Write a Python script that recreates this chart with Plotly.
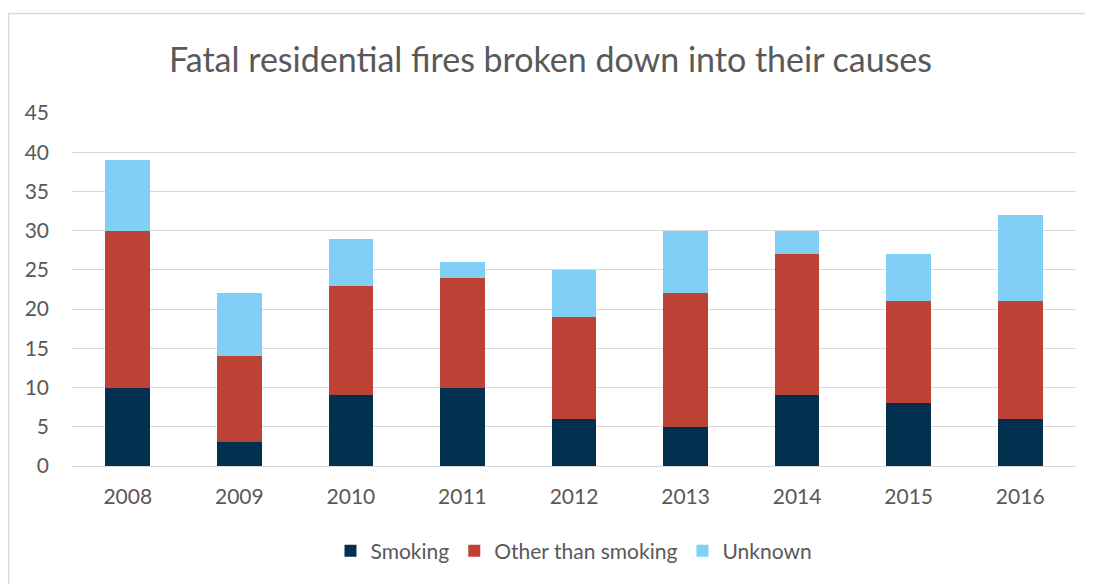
import plotly.graph_objects as go

years = ["2008", "2009", "2010", "2011", "2012", "2013", "2014", "2015", "2016"]
smoking = [10, 3, 9, 10, 6, 5, 9, 8, 6]
other = [20, 11, 14, 14, 13, 17, 18, 13, 15]
unknown = [9, 8, 6, 2, 6, 8, 3, 6, 11]

series_names = ["Smoking", "Other than smoking", "Unknown"]
colors = ["#02304E", "#BC4236", "#7FD0F4"]

fig = go.Figure()
for name, vals, c in zip(series_names, [smoking, other, unknown], colors):
    fig.add_trace(go.Bar(x=years, y=vals, name=name, marker=dict(color=c, line=dict(width=0))))

font_family = "Lato, Carlito, Calibri, sans-serif"
text_color = "#595959"

W, H = 1085, 576
L, R, T, B = 64, 17, 105, 118
PW, PH = W - L - R, H - T - B

fig.update_layout(
    barmode="stack",
    bargap=0.6,
    width=W, height=H,
    margin=dict(l=L, r=R, t=T, b=B),
    paper_bgcolor="white",
    plot_bgcolor="white",
    font=dict(family=font_family, color=text_color, size=21),
    title=dict(text="Fatal residential fires broken down into their causes",
               x=0.5, xanchor="center", y=1 - 52 / H, yanchor="middle",
               font=dict(size=34, color=text_color, family=font_family)),
    legend=dict(orientation="h", x=0.5, xanchor="center", y=(PH + T - 543) / PH, yanchor="middle",
                font=dict(size=21, color=text_color), traceorder="normal",
                itemwidth=30),
    xaxis=dict(showgrid=False, showline=False, ticks="", ticklabelstandoff=16,
               tickfont=dict(size=21, color=text_color)),
    yaxis=dict(range=[0, 45], dtick=5, showgrid=True, gridcolor="#D9D9D9", gridwidth=1.3,
               zeroline=True, zerolinecolor="#D9D9D9", zerolinewidth=1.3,
               showline=False, ticks="", ticklabelstandoff=22,
               tickfont=dict(size=21, color=text_color)),
    shapes=[dict(type="rect", xref="paper", yref="paper",
                 x0=(0.5 - L) / PW, x1=(W + 20 - L) / PW,
                 y0=-(B + 20) / PH, y1=(PH + T - 5.5) / PH,
                 line=dict(color="#D9D9D9", width=1.5), fillcolor="rgba(0,0,0,0)", layer="below")],
)

fig.write_html("out.html")
